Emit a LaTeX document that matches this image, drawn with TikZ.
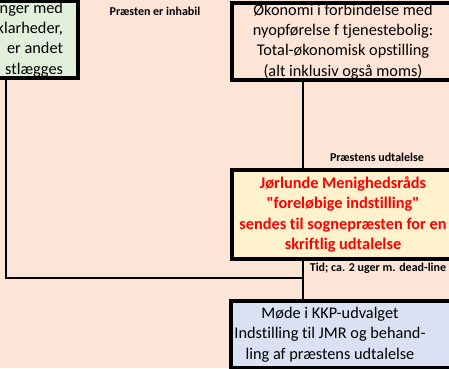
\documentclass[tikz,border=0pt]{standalone}
\usepackage{fontspec}
\setmainfont{Carlito}[Ligatures={TeXOff,NoCommon}]
\usetikzlibrary{positioning}

\definecolor{peach}{HTML}{FCE4D6}
\definecolor{lightgreen}{HTML}{E2EFDA}
\definecolor{lightyellow}{HTML}{FFF2CC}
\definecolor{lightblue}{HTML}{D9E1F2}

\begin{document}
\begin{tikzpicture}[x=1pt,y=-1pt,
    box/.style={draw=black,line width=4pt,align=center,
      font=\fontsize{16.3}{20.3}\selectfont,inner xsep=4pt,inner ysep=1pt},
    boxtext/.style={align=center,font=\fontsize{16.3}{20.3}\selectfont,inner sep=0pt},
    link/.style={draw=black,line width=2pt},
    tag/.style={font=\bfseries\fontsize{12}{14}\selectfont,inner sep=1pt}]
  \fill[peach] (0,0) rectangle (449,368);
  \useasboundingbox (0,0) rectangle (449,368);
  \clip (0,0) rectangle (449,368);

  % boxes
  \node[box,fill=lightgreen,anchor=south east,align=right,inner xsep=15pt] (aftale) at (80,80)
    {nger med\\klarheder,\\er andet\\stlægges};
  \node[box,fill=peach,anchor=south west,minimum width=222pt] (oekonomi) at (230,82)
    {Økonomi i forbindelse med\\nyopførelse f tjenestebolig:\\Total-økonomisk opstilling\\(alt inklusiv også moms)};
  \node[box,fill=lightyellow,anchor=north west,minimum width=222pt,minimum height=89pt,
    text=red,font=\bfseries\fontsize{16.3}{20.3}\selectfont] (jmr) at (230,168)
    {Jørlunde Menighedsråds\\"foreløbige indstilling"\\sendes til sognepræsten for en\\skriftlig udtalelse};
  \node[box,fill=lightblue,anchor=north west,minimum width=224pt,minimum height=67pt] (kkp) at (229,299) {};
  \node[boxtext] (kkptekst) at ([xshift=-13pt]kkp.center)
    {Møde i KKP-udvalget\\Indstilling til JMR og behand-\\ling af præstens udtalelse};

  % labels
  \node[tag] (inhabil) at (155,11) {Præsten er inhabil};
  \node[tag] (udtalelse) at (377,157) {Præstens udtalelse};
  \node[tag] (frist) at (378,268) {Tid; ca. 2 uger m. dead-line};

  % connectors
  \coordinate (knot) at (302.5,278);
  \draw[link] (oekonomi.south -| knot) -- (jmr.north -| knot);
  \draw[link] (jmr.south -| knot) -- (kkp.north -| knot);
  \draw[link] ([xshift=-74pt]aftale.south east) |- (knot);
\end{tikzpicture}
\end{document}
